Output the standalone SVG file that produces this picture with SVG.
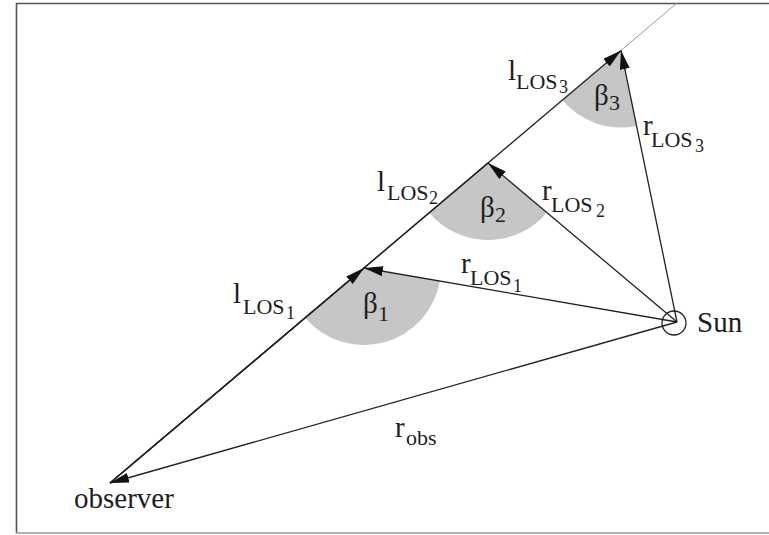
<svg xmlns="http://www.w3.org/2000/svg" width="769" height="535" viewBox="0 0 769 535">
  <style>
    .t { font-family: "Liberation Serif", "Times New Roman", serif; fill: #1e1e1e; }
    .m { font-size: 29px; }
    .s { font-size: 22px; }
    .ss { font-size: 18px; }
    .sector { fill: #c6c6c6; stroke: none; }
    .vec { fill: none; stroke: #222; stroke-width: 1.3; }
  </style>
  <defs>
    <marker id="arr" markerUnits="userSpaceOnUse" markerWidth="20" markerHeight="10" refX="19" refY="5" orient="auto">
      <path d="M0,0 L19,5 L0,10 z" fill="#111"/>
    </marker>
  </defs>
  <rect width="769" height="535" fill="#fff"/>
  <g id="frame">
    <path d="M770,3.5 H16.5 V533" fill="none" stroke="#555" stroke-width="1.6"/>
    <path d="M16.5,533 H770" fill="none" stroke="#999" stroke-width="1.6"/>
  </g>
  <g id="sectors">
    <path id="sector1" class="sector" d="M364,268 L439.9,281.1 A77,77 0 0 1 305.2,317.7 Z"/>
    <path id="sector2" class="sector" d="M488,163 L546.8,212.7 A77,77 0 0 1 429.2,212.7 Z"/>
    <path id="sector3" class="sector" d="M621,50.4 L636.3,125.9 A77,77 0 0 1 562.2,100.1 Z"/>
  </g>
  <g id="connectors">
    <line id="los-line" x1="621" y1="50.4" x2="677" y2="3" stroke="#999" stroke-width="1"/>
    <line id="l-los3" x1="110" y1="483" x2="621" y2="50.4" class="vec" marker-end="url(#arr)"/>
    <line id="l-los2" x1="110" y1="483" x2="488" y2="163" class="vec" stroke-width="1.5"/>
    <line id="l-los1" x1="110" y1="483" x2="364" y2="268" class="vec" stroke-width="2.2" marker-end="url(#arr)"/>
    <line id="r-los1" x1="677" y1="322" x2="364" y2="268" class="vec" marker-end="url(#arr)"/>
    <line id="r-los2" x1="677" y1="322" x2="488" y2="163" class="vec" marker-end="url(#arr)"/>
    <line id="r-los3" x1="677" y1="322" x2="621" y2="50.4" class="vec" marker-end="url(#arr)"/>
    <line id="r-obs" x1="677" y1="322" x2="110" y2="483" class="vec" marker-end="url(#arr)"/>
  </g>
  <g id="observer">
    <text class="t m" x="74" y="508">observer</text>
  </g>
  <g id="sun">
    <circle cx="674" cy="323" r="12" fill="none" stroke="#222" stroke-width="1.3"/>
    <text class="t m" x="697" y="332">Sun</text>
  </g>
  <g id="labels">
    <text class="t"><tspan class="m" x="233" y="303">l</tspan><tspan class="s" x="243" y="314">LOS</tspan><tspan class="ss" x="286" y="319">1</tspan></text>
    <text class="t"><tspan class="m" x="377" y="191">l</tspan><tspan class="s" x="387" y="200">LOS</tspan><tspan class="ss" x="429" y="204">2</tspan></text>
    <text class="t"><tspan class="m" x="508" y="80">l</tspan><tspan class="s" x="516" y="89">LOS</tspan><tspan class="ss" x="559" y="93">3</tspan></text>
    <text class="t"><tspan class="m" x="461" y="273">r</tspan><tspan class="s" x="470" y="285">LOS</tspan><tspan class="ss" x="513" y="292">1</tspan></text>
    <text class="t"><tspan class="m" x="542" y="200">r</tspan><tspan class="s" x="551" y="212">LOS</tspan><tspan class="ss" x="596" y="217">2</tspan></text>
    <text class="t"><tspan class="m" x="643" y="135">r</tspan><tspan class="s" x="651" y="147">LOS</tspan><tspan class="ss" x="695" y="152">3</tspan></text>
    <text class="t"><tspan class="m" x="395" y="437">r</tspan><tspan class="s" x="406" y="445">obs</tspan></text>
    <text class="t"><tspan class="m" x="363" y="313">β</tspan><tspan class="s" x="378" y="321">1</tspan></text>
    <text class="t"><tspan class="m" x="480" y="217">β</tspan><tspan class="s" x="495" y="222">2</tspan></text>
    <text class="t"><tspan class="m" x="594" y="105">β</tspan><tspan class="s" x="609" y="110">3</tspan></text>
  </g>
</svg>
